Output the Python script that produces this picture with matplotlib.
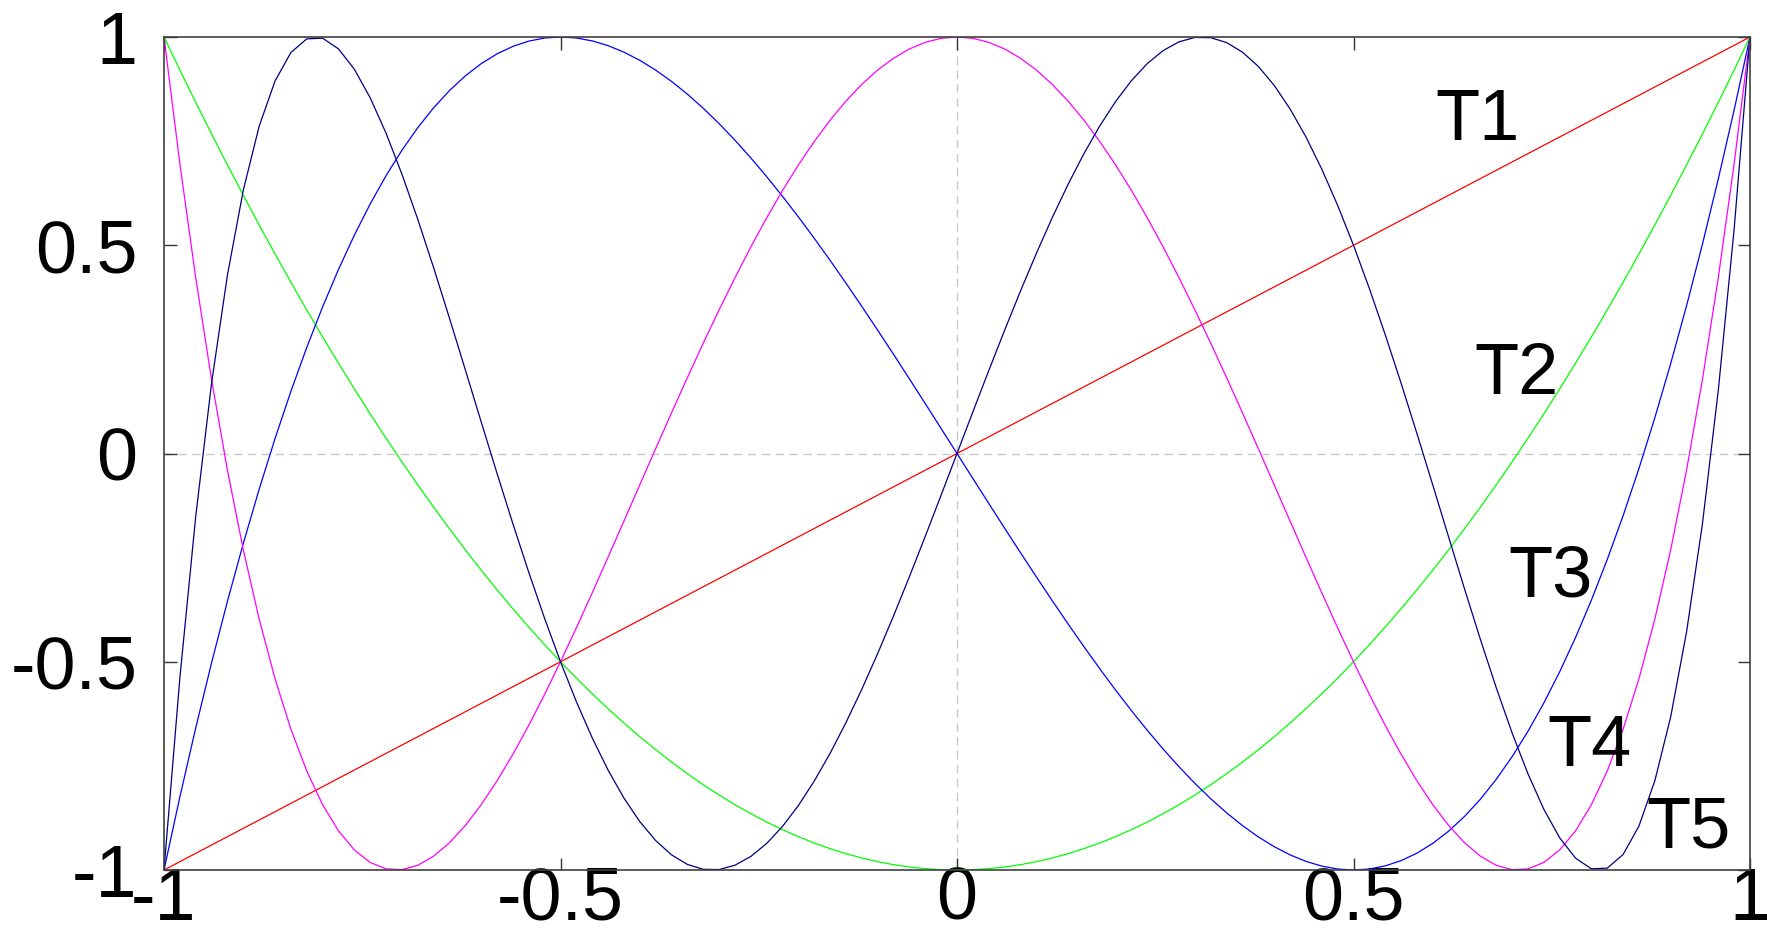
import numpy as np
import matplotlib
matplotlib.use("Agg")
import matplotlib.pyplot as plt

plt.rcParams['font.family'] = ['Liberation Sans', 'DejaVu Sans']

# Chebyshev polynomial coefficients (highest degree first)
names = ["T1", "T2", "T3", "T4", "T5"]
coeffs = [
    [1, 0],
    [2, 0, -1],
    [4, 0, -3, 0],
    [8, 0, -8, 0, 1],
    [16, 0, -20, 0, 5, 0],
]
colors = ["#ff0000", "#00ff00", "#0000ff", "#ff00ff", "#000080"]
label_x = [0.656, 0.706, 0.748, 0.798, 0.922]
label_y = [0.797, 0.187, -0.30, -0.707, -0.902]
xticks = [-1, -0.5, 0, 0.5, 1]
yticks = [-1, -0.5, 0, 0.5, 1]
tick_labels = ["-1", "-0.5", "0", "0.5", "1"]

x = np.linspace(-1, 1, 101)

fig = plt.figure(figsize=(17.67, 9.39), dpi=100)
ax = fig.add_axes([164/1767, 1-870/939, (1750-164)/1767, (870-37)/939])

ax.axhline(0, color="#c8c8c8", lw=1.0, ls=(0, (6, 4)), zorder=1)
ax.axvline(0, color="#c8c8c8", lw=1.0, ls=(0, (6, 4)), zorder=1)

for c, col in zip(coeffs, colors):
    ax.plot(x, np.polyval(c, x), color=col, lw=0.9, zorder=2)

for n, lx, ly in zip(names, label_x, label_y):
    ax.text(lx, ly, n, fontsize=52, ha="center", va="center", color="black", zorder=3)

ax.set_xlim(-1, 1)
ax.set_ylim(-1, 1)
ax.set_xticks(xticks)
ax.set_xticklabels(tick_labels)
ax.set_yticks(yticks)
ax.set_yticklabels(tick_labels)
ax.tick_params(direction="in", length=9, width=1, top=True, right=True,
               labelsize=53, pad=19, color="#333333")
ax.tick_params(axis="x", pad=-3)
for s in ax.spines.values():
    s.set_color("#404040")
    s.set_linewidth(1.2)

fig.savefig("out.png", dpi=100, facecolor="white")
